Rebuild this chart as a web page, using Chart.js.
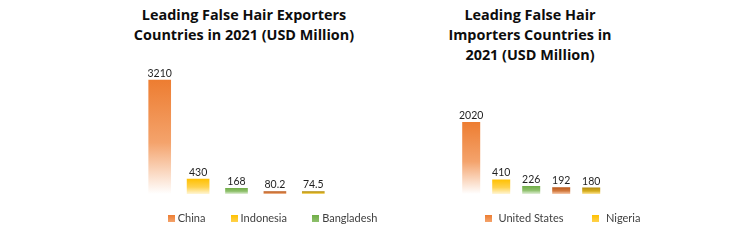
<!DOCTYPE html>
<html><head><meta charset="utf-8">
<script src="https://cdn.jsdelivr.net/npm/chart.js@4"></script>
<style>
html,body{margin:0;padding:0;background:#fff;}
#wrap{position:relative;width:742px;height:241px;overflow:hidden;}
canvas{position:absolute;top:0;}
.title{position:absolute;top:5px;font-family:"Open Sans",sans-serif;font-weight:700;font-size:14.4px;line-height:20px;color:#0d0d0d;text-align:center;white-space:nowrap;}
.legend{position:absolute;top:211px;display:flex;font-family:Lato,sans-serif;font-size:11px;line-height:14px;color:#404040;white-space:nowrap;}
.legend .it{display:flex;align-items:center;}
.legend .mk{display:inline-block;width:7px;height:7px;}
</style></head>
<body><div id="wrap">
<div class="title" id="t1" style="left:94px;width:300px;"></div>
<div class="title" id="t2" style="left:380px;width:300px;"></div>
<canvas id="c1" width="371" height="241" style="left:0;width:371px;height:241px;"></canvas>
<canvas id="c2" width="371" height="241" style="left:371px;width:371px;height:241px;"></canvas>
<div class="legend" id="l1" style="left:168px;"></div>
<div class="legend" id="l2" style="left:485px;"></div>
</div>
<script>
const exportTitle = ["Leading False Hair Exporters", "Countries in 2021 (USD Million)"];
const importTitle = ["Leading False Hair", "Importers Countries in", "2021 (USD Million)"];
const exportCountries = ["China", "Indonesia", "Bangladesh", "Vietnam", "Myanmar"];
const exportValues = [3210, 430, 168, 80.2, 74.5];
const exportValueLabels = ["3210", "430", "168", "80.2", "74.5"];
const importCountries = ["United States", "Nigeria", "United Kingdom", "Germany", "France"];
const importValues = [2020, 410, 226, 192, 180];
const importValueLabels = ["2020", "410", "226", "192", "180"];
const exportLegendShown = 3;
const importLegendShown = 2;

const barColors = [
  ["#ED7D31", "#F4A36C", "#FFFFFF"],
  ["#FFC000", "#FFD24D", "#FFF6D6"],
  ["#70AD47", "#8FC16D", "#E2F0D9"],
  ["#B8571A", "#D2793D", "#F8CBAD"],
  ["#B08A10", "#D6AE1E", "#FFE699"]
];

document.getElementById('t1').innerHTML = exportTitle.join('<br>');
document.getElementById('t2').innerHTML = importTitle.join('<br>');

function buildLegend(id, names, n, gap, mkGap){
  const el = document.getElementById(id);
  el.style.columnGap = gap + 'px';
  names.slice(0, n).forEach((name, i) => {
    const it = document.createElement('span'); it.className = 'it';
    const mk = document.createElement('span'); mk.className = 'mk';
    mk.style.background = 'linear-gradient(' + barColors[i][0] + ',' + barColors[i][1] + ')';
    mk.style.marginRight = mkGap + 'px';
    it.appendChild(mk);
    it.appendChild(document.createTextNode(name));
    el.appendChild(it);
  });
}
buildLegend('l1', exportCountries, exportLegendShown, 25.5, 2.7);
buildLegend('l2', importCountries, importLegendShown, 29, 6.5);

function gradFill(ctx){
  const chart = ctx.chart;
  const area = chart.chartArea;
  if (!area) return barColors[ctx.dataIndex][0];
  const y = chart.scales.y;
  const top = y.getPixelForValue(ctx.raw);
  const bot = y.getPixelForValue(0);
  const c = barColors[ctx.dataIndex];
  const g = chart.ctx.createLinearGradient(0, top, 0, Math.max(bot, top + 1));
  g.addColorStop(0, c[0]);
  g.addColorStop(0.55, c[1]);
  g.addColorStop(1, c[2]);
  return g;
}

const valueLabels = {
  id: 'valueLabels',
  afterDatasetsDraw(chart, args, opts){
    const ctx = chart.ctx;
    const meta = chart.getDatasetMeta(0);
    ctx.save();
    ctx.font = '10.5px Lato, sans-serif';
    ctx.fillStyle = '#1f1f1f';
    ctx.textAlign = 'center';
    ctx.textBaseline = 'alphabetic';
    meta.data.forEach((el, i) => {
      ctx.fillText(opts.labels[i], el.x, el.y - 3);
    });
    ctx.restore();
  }
};

function makeChart(id, labels, values, texts, pad, yMax, barPct){
  return new Chart(document.getElementById(id), {
    type: 'bar',
    data: { labels: labels, datasets: [{ data: values, backgroundColor: gradFill, borderWidth: 0 }] },
    options: {
      responsive: false, animation: false,
      layout: { padding: pad },
      plugins: { legend: { display: false }, tooltip: { enabled: false }, title: { display: false }, valueLabels: { labels: texts } },
      scales: {
        x: { display: false, grid: { display: false } },
        y: { display: false, min: 0, max: yMax }
      },
      datasets: { bar: { barPercentage: barPct, categoryPercentage: 1 } }
    },
    plugins: [valueLabels]
  });
}
makeChart('c1', exportCountries, exportValues, exportValueLabels, { left: 140.5, right: 38.5, top: 66, bottom: 47 }, 3600, 0.59);
makeChart('c2', importCountries, importValues, importValueLabels, { left: 85.2, right: 135.8, top: 105, bottom: 47 }, 2500, 0.6);
</script>
</body></html>
